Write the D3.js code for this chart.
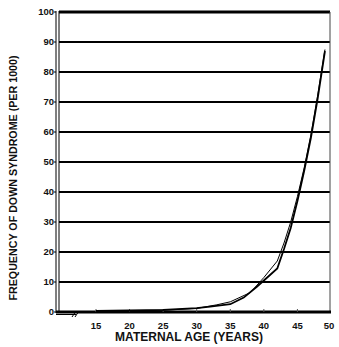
<!DOCTYPE html>
<html>
<head>
<meta charset="utf-8">
<script src="https://cdn.jsdelivr.net/npm/d3@7"></script>
<style>
  body { margin: 0; background: #fff; }
  text { font-family: "Liberation Sans", Arial, sans-serif; font-weight: bold; fill: #111; }
</style>
</head>
<body>
<svg id="chart" width="339" height="347"></svg>
<script>
// data
const yTicks = [0, 10, 20, 30, 40, 50, 60, 70, 80, 90, 100];
const xTicks = [15, 20, 25, 30, 35, 40, 45, 50];
const thickAges = [15, 20, 25, 30, 32, 35, 37, 39, 40, 42, 43, 44, 45, 46, 47, 48, 49.1];
const thickVals = [0.4, 0.5, 0.7, 1.3, 1.8, 2.6, 4.8, 8.5, 10.5, 14.5, 21, 28, 37, 47, 58, 71, 87];
const thinAges = [15, 20, 25, 30, 33, 35, 38, 40, 42, 43, 44, 45, 46, 47, 48, 49.1];
const thinVals = [0.3, 0.4, 0.6, 1.2, 2.4, 3.4, 6.5, 11.5, 17, 23, 30, 38.5, 48, 59, 72, 87.5];

const svg = d3.select('#chart');

const x = d3.scaleLinear().domain([15, 50]).range([96, 331]);
const y = d3.scaleLinear().domain([0, 100]).range([312, 12]);
const left = 59, right = 330;

// gridlines
svg.append('g')
  .selectAll('line')
  .data(yTicks.filter(d => d > 0))
  .join('line')
  .attr('x1', left).attr('x2', right)
  .attr('y1', d => y(d)).attr('y2', d => y(d))
  .attr('stroke', '#000')
  .attr('stroke-width', d => d === 100 ? 3 : 2);

// right border
svg.append('line')
  .attr('x1', right).attr('x2', right)
  .attr('y1', y(100)).attr('y2', y(0))
  .attr('stroke', '#444').attr('stroke-width', 1);

// left axis: double line
[56, 59].forEach(px => {
  svg.append('line')
    .attr('x1', px).attr('x2', px)
    .attr('y1', y(100) - 1).attr('y2', y(0) + 1)
    .attr('stroke', '#000').attr('stroke-width', 1);
});

// y tick marks and labels
const yAxis = svg.append('g');
yAxis.selectAll('line')
  .data(yTicks)
  .join('line')
  .attr('x1', 54).attr('x2', 56)
  .attr('y1', d => y(d)).attr('y2', d => y(d))
  .attr('stroke', '#000');
yAxis.selectAll('text')
  .data(yTicks)
  .join('text')
  .attr('x', 54)
  .attr('y', d => y(d))
  .attr('dy', '0.35em')
  .attr('text-anchor', 'end')
  .style('font-size', '9.5px')
  .text(d => d);

// bottom axis
svg.append('line')
  .attr('x1', 56).attr('x2', right + 1)
  .attr('y1', y(0)).attr('y2', y(0))
  .attr('stroke', '#000').attr('stroke-width', 3);
svg.append('line')
  .attr('x1', 56).attr('x2', 76)
  .attr('y1', y(0) + 2.5).attr('y2', y(0) + 2.5)
  .attr('stroke', '#000').attr('stroke-width', 1);
// axis break marks
[74, 77].forEach(px => {
  svg.append('line')
    .attr('x1', px - 2).attr('x2', px + 2)
    .attr('y1', y(0) + 5).attr('y2', y(0) - 1)
    .attr('stroke', '#000').attr('stroke-width', 1);
});

svg.append('g')
  .selectAll('line')
  .data(xTicks.filter(d => d < 50))
  .join('line')
  .attr('x1', d => x(d)).attr('x2', d => x(d))
  .attr('y1', y(0) - 3).attr('y2', y(0))
  .attr('stroke', '#555');

svg.append('g')
  .selectAll('text')
  .data(xTicks)
  .join('text')
  .attr('x', d => x(d) - (d === 50 ? 2 : 0))
  .attr('y', 329)
  .attr('text-anchor', 'middle')
  .style('font-size', '9.5px')
  .text(d => d);

// curves
const line = d3.line().curve(d3.curveLinear);
const thickPts = thickAges.map((a, i) => [x(a), y(thickVals[i])]);
const thinPts = thinAges.map((a, i) => [x(a), y(thinVals[i])]);

svg.append('path')
  .attr('d', line(thinPts))
  .attr('fill', 'none')
  .attr('stroke', '#000')
  .attr('stroke-width', 1);
svg.append('path')
  .attr('d', line(thickPts))
  .attr('fill', 'none')
  .attr('stroke', '#000')
  .attr('stroke-width', 1.8);

// titles
svg.append('text')
  .attr('x', 189)
  .attr('y', 341)
  .attr('text-anchor', 'middle')
  .style('font-size', '12px')
  .text('MATERNAL AGE (YEARS)');

svg.append('text')
  .attr('transform', 'translate(17,178) rotate(-90)')
  .attr('text-anchor', 'middle')
  .style('font-size', '10.7px')
  .text('FREQUENCY OF DOWN SYNDROME (PER 1000)');
</script>
</body>
</html>
